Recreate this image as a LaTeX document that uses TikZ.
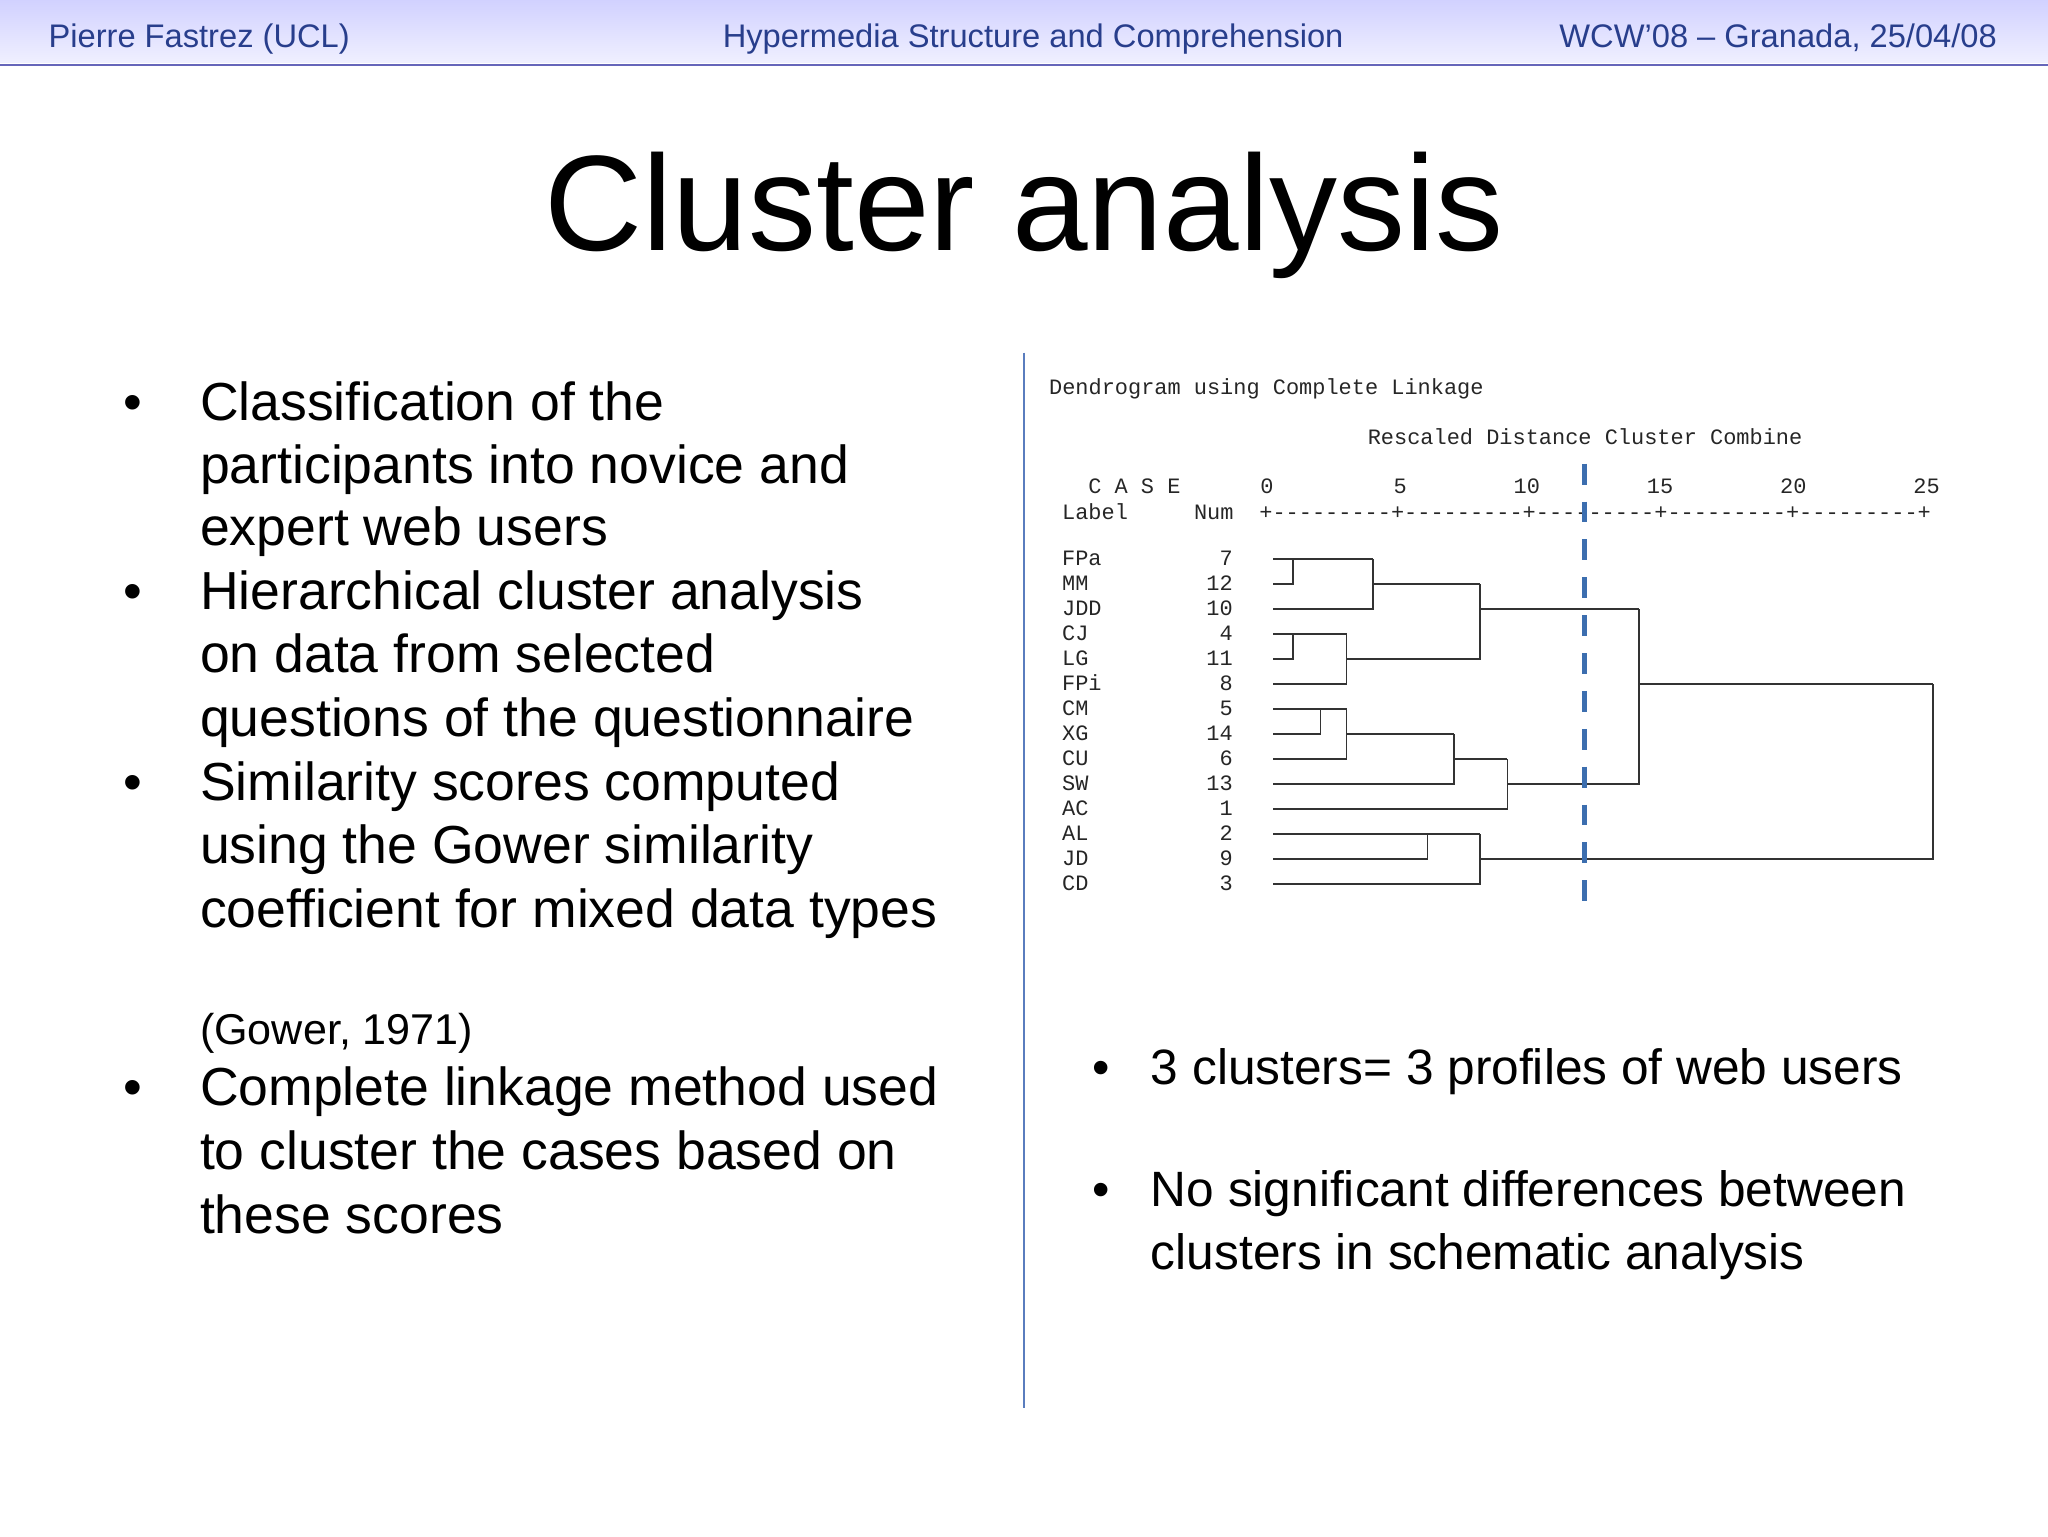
\documentclass[tikz,border=0pt]{standalone}
\usepackage{fontspec}
\setmainfont{Liberation Sans}
\newfontfamily\monof{Liberation Mono}
\definecolor{hdr}{RGB}{40,62,140}
\definecolor{divc}{RGB}{90,125,190}
\definecolor{cut}{RGB}{60,110,175}
\begin{document}
\begin{tikzpicture}[x=1pt,y=-1pt,
  hd/.style={inner sep=0,text=hdr,font=\fontsize{25}{28}\selectfont},
  bl/.style={inner sep=0,anchor=base west,font=\fontsize{41}{45}\selectfont},
  br/.style={inner sep=0,anchor=base west,font=\fontsize{38}{42}\selectfont},
  mo/.style={inner sep=0,anchor=base west,font=\monof\fontsize{16.8}{18}\selectfont,text=black!85},
  mr/.style={inner sep=0,anchor=base east,font=\monof\fontsize{16.8}{18}\selectfont,text=black!85},
  dl/.style={line width=1.2pt,black!80}]
\useasboundingbox (0,0) rectangle (1568,1176);
\shade[top color=blue!18,bottom color=blue!6] (0,0) rectangle (1568,48);
\draw[line width=1.5pt,black!45!blue!60] (0,49.5) -- (1568,49.5);
\node[hd,anchor=base west] (h1) at (37,36) {Pierre Fastrez (UCL)};
\node[hd,anchor=base] (h2) at (791,36) {Hypermedia Structure and Comprehension};
\node[hd,anchor=base east] (h3) at (1529,36) {WCW’08 – Granada, 25/04/08};
\node[inner sep=0,anchor=base,font=\fontsize{104}{110}\selectfont] (title) at (784,192) {Cluster analysis};
% left bullets
\foreach \y/\n in {322/b1,467/b2,613/b3,846/b4}
  \node[bl] (\n) at (94,\y) {•};
\node[bl] (l1) at (153,322) {Classification of the};
\node[bl] (l2) at (153,370) {participants into novice and};
\node[bl] (l3) at (153,418) {expert web users};
\node[bl] (l4) at (153,467) {Hierarchical cluster analysis};
\node[bl] (l5) at (153,515) {on data from selected};
\node[bl] (l6) at (153,564) {questions of the questionnaire};
\node[bl] (l7) at (153,613) {Similarity scores computed};
\node[bl] (l8) at (153,661) {using the Gower similarity};
\node[bl] (l9) at (153,710) {coefficient for mixed data types};
\node[inner sep=0,anchor=base west,font=\fontsize{33}{36}\selectfont] (l10) at (153,800) {(Gower, 1971)};
\node[bl] (l11) at (153,846) {Complete linkage method used};
\node[bl] (l12) at (153,895) {to cluster the cases based on};
\node[bl] (l13) at (153,944) {these scores};
% divider
\coordinate (d1) at (784,270); \coordinate (d2) at (784,1078);
\draw[divc,line width=1.5pt] (d1) -- (d2);
% dendrogram text
\node[mo] (t1) at (803,302) {Dendrogram using Complete Linkage};
\node[mo] (t2) at (1047,340) {Rescaled Distance Cluster Combine};
\node[mo] (t3) at (833,378) {C A S E};
\foreach \x/\v in {970/0,1072/5}\node[mo,anchor=base] at (\x,378) {\v};
\foreach \x/\v in {1169/10,1271/15,1373/20,1475/25}\node[mo,anchor=base] at (\x,378) {\v};
\node[mo] (t4) at (813,398) {Label};
\node[mo] (t5) at (914,398) {Num};
\node[mo] (ax) at (964,398) {+---------+---------+---------+---------+---------+};
\foreach \l/\n [count=\i from 0] in {FPa/7,MM/12,JDD/10,CJ/4,LG/11,FPi/8,CM/5,XG/14,CU/6,SW/13,AC/1,AL/2,JD/9,CD/3}{
  \pgfmathsetmacro\yy{428+19.15*\i}
  \node[mo] at (813,\yy+5) {\l};
  \node[mr] at (944,\yy+5) {\n};
}
\def\R#1{(428+19.15*#1)}
% tree
\draw[dl] (975,428) -- (1051,428);
\draw[dl] (975,447.15) -| (990,428);
\draw[dl] (975,466.3) -| (1051,428);
\draw[dl] (1051,447.15) -- (1133,447.15);
\draw[dl] (975,485.45) -- (1031,485.45);
\draw[dl] (975,504.6) -| (990,485.45);
\draw[dl] (975,523.75) -| (1031,485.45);
\draw[dl] (1031,504.6) -- (1133,504.6) -- (1133,447.15);
\draw[dl] (1133,466.3) -- (1255,466.3);
\draw[dl] (975,542.9) -- (1031,542.9);
\draw[dl] (975,562.05) -| (1011,542.9);
\draw[dl] (975,581.2) -| (1031,542.9);
\draw[dl] (1031,562.05) -- (1113,562.05);
\draw[dl] (975,600.35) -| (1113,562.05);
\draw[dl] (1113,581.2) -- (1154,581.2);
\draw[dl] (975,619.5) -| (1154,581.2);
\draw[dl] (1154,600.35) -- (1255,600.35) -- (1255,466.3);
\draw[dl] (1255,523.75) -- (1480,523.75);
\draw[dl] (975,638.65) -- (1133,638.65);
\draw[dl] (975,657.8) -| (1093,638.65);
\draw[dl] (975,676.95) -| (1133,638.65);
\draw[dl] (1133,657.8) -- (1480,657.8) -- (1480,523.75);
\coordinate (c1) at (1213,355); \coordinate (c2) at (1213,697);
\draw[cut,line width=4pt,dash pattern=on 16pt off 13pt] (c1) -- (c2);
% right bullets
\node[br] (r0) at (836,830) {•};
\node[br] (r1) at (881,830) {3 clusters= 3 profiles of web users};
\node[br] (r2) at (836,924) {•};
\node[br] (r3) at (881,924) {No significant differences between};
\node[br] (r4) at (881,972) {clusters in schematic analysis};
\end{tikzpicture}
\end{document}
